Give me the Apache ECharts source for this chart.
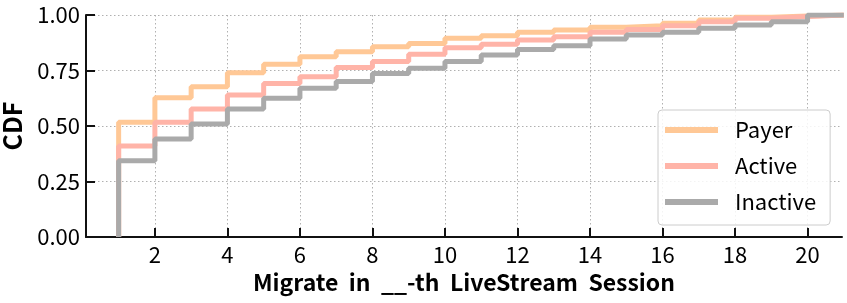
<!DOCTYPE html>
<html><head><meta charset="utf-8">
<script src="https://cdn.jsdelivr.net/npm/echarts@6/dist/echarts.min.js"></script>
<style>html,body{margin:0;padding:0;background:#fff}#c{width:847px;height:303px}</style>
</head><body><div id="c"></div>
<script>
var sessions = [1,2,3,4,5,6,7,8,9,10,11,12,13,14,15,16,17,18,19,20];
var payer    = [0.517,0.627,0.677,0.740,0.778,0.812,0.835,0.857,0.872,0.895,0.907,0.922,0.932,0.945,0.952,0.963,0.977,0.990,0.995,1.0];
var active   = [0.410,0.517,0.577,0.640,0.692,0.722,0.764,0.790,0.823,0.853,0.868,0.887,0.902,0.922,0.935,0.952,0.970,0.985,0.993,1.0];
var inactive = [0.344,0.441,0.509,0.577,0.625,0.670,0.700,0.737,0.760,0.790,0.820,0.845,0.862,0.892,0.910,0.922,0.940,0.955,0.970,1.0];
var xTicks = [2,4,6,8,10,12,14,16,18,20];
var seriesNames = ['Payer','Active','Inactive'];
var colors = ['#FFC896','#FFB4A8','#AAAAAA'];

function stepData(vals){
  var d = [[sessions[0], 0]];
  for (var i=0;i<sessions.length;i++) d.push([sessions[i], vals[i]]);
  d.push([sessions[sessions.length-1]+1, vals[vals.length-1]]);
  return d;
}
var FONT = 'Noto Sans CJK JP';
var chart = echarts.init(document.getElementById('c'));
var gridLine = {show:true, lineStyle:{color:'#b0b0b0', width:1, type:[1.5,2.5]}};
chart.setOption({
  animation:false,
  textStyle:{fontFamily:FONT},
  grid:{left:86, right:5, top:15, bottom:66, containLabel:false, outerBoundsMode:'none'},
  xAxis:{
    type:'value', min:0.1, max:20.95,
    name:'Migrate  in  __-th  LiveStream  Session', nameLocation:'middle', nameGap:34,
    nameTextStyle:{fontFamily:FONT, fontSize:23, fontWeight:'bold', color:'#000'},
    axisLine:{show:true, lineStyle:{color:'#111', width:2}},
    axisTick:{show:true, inside:true, length:9, lineStyle:{color:'#111', width:2}, customValues:xTicks},
    axisLabel:{fontFamily:FONT, fontSize:22, color:'#000', margin:7, customValues:xTicks},
    splitLine:gridLine
  },
  yAxis:{
    type:'value', min:0, max:1, interval:0.25,
    name:'CDF', nameLocation:'middle', nameGap:61,
    nameTextStyle:{fontFamily:FONT, fontSize:25, fontWeight:'bold', color:'#000'},
    axisLine:{show:true, lineStyle:{color:'#111', width:2}},
    axisTick:{show:true, inside:true, length:9, lineStyle:{color:'#111', width:2}},
    axisLabel:{fontFamily:FONT, fontSize:22, color:'#000', margin:6, formatter:function(v){return v.toFixed(2);}},
    splitLine:gridLine
  },
  legend:{
    data:seriesNames, orient:'vertical', left:658, top:110,
    icon:'rect', itemWidth:53, itemHeight:6, itemGap:8,
    padding:[6,14,9,7],
    borderColor:'#cccccc', borderWidth:1, borderRadius:4, backgroundColor:'rgba(255,255,255,0.85)',
    textStyle:{fontFamily:FONT, fontSize:22, color:'#000', lineHeight:28, padding:[0,0,0,12]}
  },
  series:[payer,active,inactive].map(function(v,i){
    return {name:seriesNames[i], type:'line', step:'end', data:stepData(v), showSymbol:false, symbol:'none',
      lineStyle:{color:colors[i], width:5}, itemStyle:{color:colors[i]}, z:2+i, clip:true};
  })
});
</script></body></html>
